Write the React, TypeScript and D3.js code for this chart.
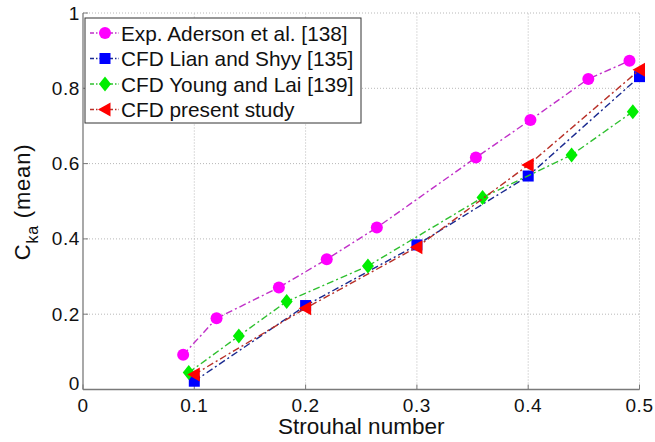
import React from "react";
import * as d3 from "d3";

const xTicks = [0, 0.1, 0.2, 0.3, 0.4, 0.5];
const yTicks = [0, 0.2, 0.4, 0.6, 0.8, 1];

const expX = [0.09, 0.12, 0.176, 0.219, 0.264, 0.353, 0.402, 0.454, 0.491];
const expY = [0.092, 0.189, 0.271, 0.346, 0.43, 0.616, 0.716, 0.825, 0.873];
const lianX = [0.1, 0.2, 0.3, 0.4, 0.5];
const lianY = [0.022, 0.223, 0.384, 0.567, 0.831];
const youngX = [0.095, 0.14, 0.183, 0.256, 0.359, 0.439, 0.494];
const youngY = [0.045, 0.142, 0.234, 0.328, 0.51, 0.623, 0.738];
const presentX = [0.1, 0.2, 0.3, 0.4, 0.5];
const presentY = [0.04, 0.216, 0.378, 0.596, 0.849];

const seriesNames = [
  "Exp. Aderson et al. [138]",
  "CFD Lian and Shyy [135]",
  "CFD Young and Lai [139]",
  "CFD present study",
];

const W = 655;
const H = 442;
const x = d3.scaleLinear().domain([0, 0.5]).range([83, 639.5]);
const y = d3.scaleLinear().domain([0, 1]).range([389.5, 13]);

type Series = {
  name: string;
  xs: number[];
  ys: number[];
  marker: string;
  line: string;
  shape: "circle" | "square" | "diamond" | "triangle";
};

const series: Series[] = [
  { name: seriesNames[0], xs: expX, ys: expY, marker: "#ff00ff", line: "#c030c8", shape: "circle" },
  { name: seriesNames[1], xs: lianX, ys: lianY, marker: "#0000ff", line: "#1a2a90", shape: "square" },
  { name: seriesNames[2], xs: youngX, ys: youngY, marker: "#00ee00", line: "#30c030", shape: "diamond" },
  { name: seriesNames[3], xs: presentX, ys: presentY, marker: "#ff0000", line: "#b83028", shape: "triangle" },
];

const dash = "7,3,2,3";
const font = "'Liberation Sans', Arial, sans-serif";

function Marker({ cx, cy, shape, color }: { cx: number; cy: number; shape: string; color: string }) {
  if (shape === "circle") return <circle cx={cx} cy={cy} r={6} fill={color} />;
  if (shape === "square") return <rect x={cx - 5.5} y={cy - 5.5} width={11} height={11} fill={color} />;
  if (shape === "diamond")
    return <path d={`M${cx},${cy - 7.5}L${cx + 6},${cy}L${cx},${cy + 7.5}L${cx - 6},${cy}Z`} fill={color} />;
  return <path d={`M${cx - 7},${cy}L${cx + 5.5},${cy - 7}L${cx + 5.5},${cy + 7}Z`} fill={color} />;
}

export default function App() {
  const line = d3
    .line<[number, number]>()
    .x((d) => x(d[0]))
    .y((d) => y(d[1]));

  const legendX = 85;
  const legendY = 18;
  const rowH = 25.5;

  return (
    <svg
      width={W}
      height={H}
      style={{ position: "absolute", left: 0, top: 0, background: "#fff" }}
      fontFamily={font}
    >
      <rect width={W} height={H} fill="#fff" />
      {/* grid */}
      {xTicks.slice(1).map((t) => (
        <line key={"gx" + t} x1={x(t)} x2={x(t)} y1={y(0)} y2={y(1)} stroke="#b8b8b8" strokeWidth={1} strokeDasharray="1,2" />
      ))}
      {yTicks.slice(1).map((t) => (
        <line key={"gy" + t} x1={x(0)} x2={x(0.5)} y1={y(t)} y2={y(t)} stroke="#b8b8b8" strokeWidth={1} strokeDasharray="1,2" />
      ))}
      {/* axes */}
      <line x1={x(0)} x2={x(0.5)} y1={y(0)} y2={y(0)} stroke="#7a7a7a" strokeWidth={1.3} />
      <line x1={x(0)} x2={x(0)} y1={y(0)} y2={y(1)} stroke="#7a7a7a" strokeWidth={1.3} />
      {xTicks.map((t) => (
        <line key={"tx" + t} x1={x(t)} x2={x(t)} y1={y(0)} y2={y(0) - 5} stroke="#7a7a7a" />
      ))}
      {yTicks.map((t) => (
        <line key={"ty" + t} x1={x(0)} x2={x(0) + 5} y1={y(t)} y2={y(t)} stroke="#7a7a7a" />
      ))}
      {/* tick labels */}
      {xTicks.map((t) => (
        <text key={"lx" + t} x={x(t)} y={412} textAnchor="middle" fontSize={19} letterSpacing={0.6} fill="#111">
          {d3.format("~g")(t)}
        </text>
      ))}
      {yTicks.map((t) => (
        <text key={"ly" + t} x={80} y={y(t) + (t === 0 ? 0 : 6.5)} textAnchor="end" fontSize={19} letterSpacing={0.6} fill="#111">
          {d3.format("~g")(t)}
        </text>
      ))}
      {/* axis titles */}
      <text x={(x(0) + x(0.5)) / 2} y={434} textAnchor="middle" fontSize={22.5} fill="#111">
        Strouhal number
      </text>
      <text transform="translate(30,202) rotate(-90)" textAnchor="middle" fontSize={22} letterSpacing={0.8} fill="#111">
        C
        <tspan fontSize={16} dy={8}>ka</tspan>
        <tspan dy={-8}> (mean)</tspan>
      </text>
      {/* series */}
      {series.map((s) => (
        <g key={s.name}>
          <path
            d={line(s.xs.map((v, i) => [v, s.ys[i]] as [number, number])) || ""}
            fill="none"
            stroke={s.line}
            strokeWidth={1.4}
            strokeDasharray={dash}
          />
          {s.xs.map((v, i) => (
            <Marker key={i} cx={x(v)} cy={y(s.ys[i])} shape={s.shape} color={s.marker} />
          ))}
        </g>
      ))}
      {/* legend */}
      <rect x={legendX} y={legendY} width={276} height={105} fill="#fff" stroke="#333" strokeWidth={1} />
      {series.map((s, i) => {
        const cy = legendY + 15 + i * rowH;
        return (
          <g key={"lg" + i}>
            <line x1={90} x2={119} y1={cy} y2={cy} stroke={s.line} strokeWidth={1.4} strokeDasharray="4,2,1.5,2" />
            <Marker cx={105} cy={cy} shape={s.shape} color={s.marker} />
            <text x={121} y={cy + 7.5} fontSize={20.8} fill="#111">
              {s.name}
            </text>
          </g>
        );
      })}
    </svg>
  );
}
